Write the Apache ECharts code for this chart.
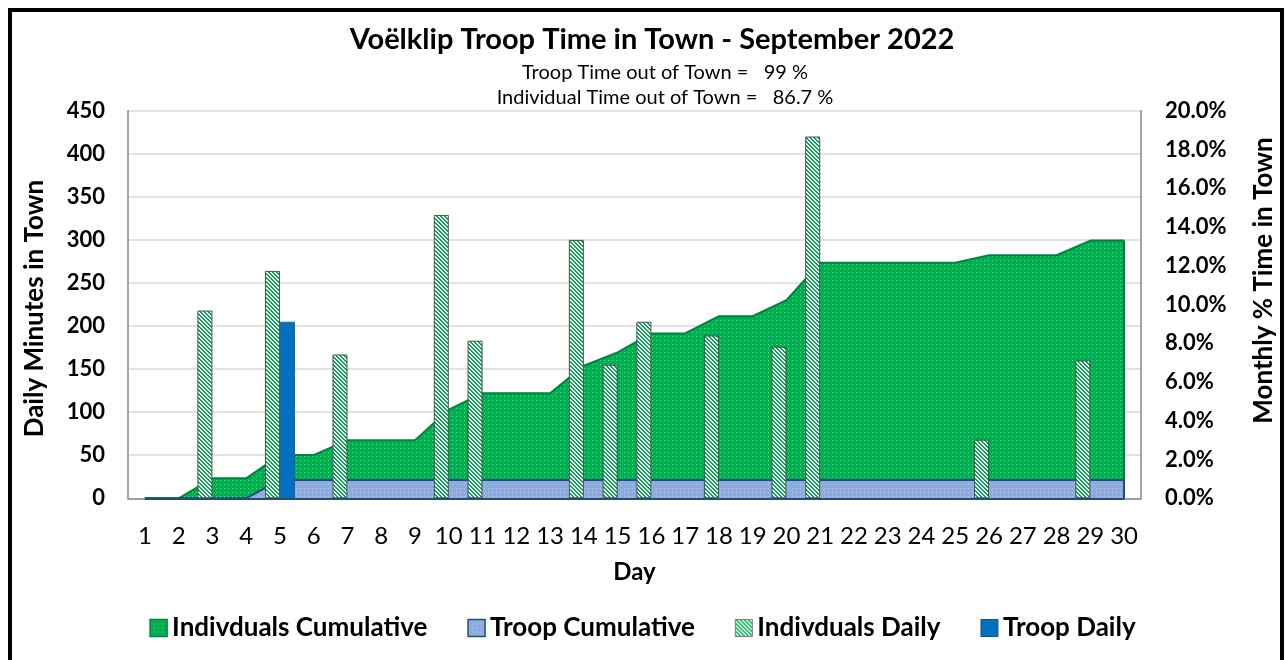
<!DOCTYPE html>
<html>
<head>
<meta charset="utf-8">
<script src="https://cdn.jsdelivr.net/npm/echarts@6/dist/echarts.min.js"></script>
<style>
  html, body { margin: 0; padding: 0; background: #fff; }
  #chart { width: 1285px; height: 660px; }
</style>
</head>
<body>
<div id="chart"></div>
<script>
// values
const days = ['1', '2', '3', '4', '5', '6', '7', '8', '9', '10', '11', '12', '13', '14', '15',
  '16', '17', '18', '19', '20', '21', '22', '23', '24', '25', '26', '27', '28', '29', '30']
const indivDaily = [0, 0, 218, 0, 264, 0, 167, 0, 0, 329, 183, 0, 0, 300, 155,
  205, 0, 189, 0, 176, 420, 0, 0, 0, 0, 68, 0, 0, 160, 0]
const troopDaily = [0, 0, 0, 0, 205, 0, 0, 0, 0, 0, 0, 0, 0, 0, 0,
  0, 0, 0, 0, 0, 0, 0, 0, 0, 0, 0, 0, 0, 0, 0]
// cumulative, percent of month
const indivCumulative = [0, 0, 1.03, 1.03, 2.23, 2.23, 3.0, 3.0, 3.0, 4.58, 5.42, 5.42, 5.42, 6.84, 7.53,
  8.51, 8.51, 9.4, 9.4, 10.22, 12.16, 12.16, 12.16, 12.16, 12.16, 12.54, 12.54, 12.54, 13.3, 13.3]
const troopCumulative = [0, 0, 0, 0, 0.95, 0.95, 0.95, 0.95, 0.95, 0.95, 0.95, 0.95, 0.95, 0.95, 0.95,
  0.95, 0.95, 0.95, 0.95, 0.95, 0.95, 0.95, 0.95, 0.95, 0.95, 0.95, 0.95, 0.95, 0.95, 0.95]
const leftTicks = { min: 0, max: 450, interval: 50 }
const rightTicks = { min: 0, max: 20, interval: 2 }

const FONT = 'Lato'

// small canvas tiles for the Excel-like fills
function tile(size, bg, fg, test) {
  const c = document.createElement('canvas')
  c.width = size
  c.height = size
  const ctx = c.getContext('2d')
  ctx.fillStyle = bg
  ctx.fillRect(0, 0, size, size)
  ctx.fillStyle = fg
  for (let x = 0; x < size; x++) {
    for (let y = 0; y < size; y++) {
      if (test(x, y)) ctx.fillRect(x, y, 1, 1)
    }
  }
  return { image: c, repeat: 'repeat' }
}

const greenDots = tile(4, '#00b050', '#63d08d', (x, y) => x === 0 && y === 0)
const blueDots = tile(4, '#8faadc', '#b8cbec', (x, y) => x === 0 && y === 0)
const stripes = tile(4, '#ffffff', '#00a850', (x, y) => ((x - y + 8) % 4) < 2)

// empty days draw no bar
const noZero = arr => arr.map(v => (v === 0 ? null : v))

const lastDay = days[days.length - 1]
const outline = (series, color) => ({
  silent: true,
  symbol: 'none',
  label: { show: false },
  lineStyle: { color: color, width: 2, type: 'solid' },
  data: [
    [{ coord: [days[0], 0] }, { coord: [lastDay, 0] }],
    [{ coord: [lastDay, 0] }, { coord: [lastDay, series[series.length - 1]] }]
  ]
})

const chart = echarts.init(document.getElementById('chart'))

const options = {
  backgroundColor: '#fff',
  animation: false,
  textStyle: { fontFamily: FONT },
  title: [
    {
      text: 'Voëlklip Troop Time in Town - September 2022',
      left: 647, top: 20, textAlign: 'center',
      textStyle: { fontFamily: FONT, fontSize: 29, fontWeight: 'bold', color: '#000' }
    },
    {
      text: 'Troop Time out of Town =   99 %',
      left: 660, top: 58, textAlign: 'center',
      textStyle: { fontFamily: FONT, fontSize: 20, fontWeight: 'normal', color: '#000' }
    },
    {
      text: 'Individual Time out of Town =   86.7 %',
      left: 660, top: 83, textAlign: 'center',
      textStyle: { fontFamily: FONT, fontSize: 20, fontWeight: 'normal', color: '#000' }
    }
  ],
  graphic: [
    {
      type: 'rect',
      shape: { x: 10, y: 10, width: 1272, height: 700 },
      style: { fill: 'none', stroke: '#000', lineWidth: 4 },
      silent: true
    }
  ],
  legend: {
    left: 'center',
    top: 610,
    itemWidth: 17,
    itemHeight: 17,
    itemGap: 40,
    textStyle: { fontFamily: FONT, fontSize: 26, fontWeight: 'bold', color: '#000' },
    data: [
      { name: 'Indivduals Cumulative', icon: 'rect', itemStyle: { color: greenDots, borderColor: '#00843d', borderWidth: 1.5 } },
      { name: 'Troop Cumulative', icon: 'rect', itemStyle: { color: blueDots, borderColor: '#1f4e79', borderWidth: 1.5 } },
      { name: 'Indivduals Daily', icon: 'rect', itemStyle: { color: stripes, borderColor: '#7f7f7f', borderWidth: 1 } },
      { name: 'Troop Daily', icon: 'rect', itemStyle: { color: '#0070c0', borderColor: '#1f4e79', borderWidth: 1 } }
    ]
  },
  grid: {
    left: 128,
    right: 144,
    top: 110.7,
    bottom: 161.7,
    containLabel: false
  },
  xAxis: {
    type: 'category',
    data: days,
    name: 'Day',
    nameLocation: 'middle',
    nameGap: 62,
    nameTextStyle: { fontFamily: FONT, fontSize: 24, fontWeight: 'bold', color: '#000' },
    axisLine: { lineStyle: { color: '#868686', width: 1.5 } },
    axisTick: { length: 9, lineStyle: { color: '#868686', width: 1.5 } },
    axisLabel: { margin: 26, fontFamily: FONT, fontSize: 24, color: '#000', interval: 0 }
  },
  yAxis: [
    {
      type: 'value',
      min: leftTicks.min,
      max: leftTicks.max,
      interval: leftTicks.interval,
      name: 'Daily Minutes in Town',
      nameLocation: 'middle',
      nameGap: 80,
      nameRotate: 90,
      nameTextStyle: { fontFamily: FONT, fontSize: 26, fontWeight: 'bold', color: '#000', padding: [0, 8, 0, 0] },
      axisLine: { show: true, lineStyle: { color: '#868686', width: 1.5 } },
      axisTick: { show: false },
      axisLabel: { margin: 23, fontFamily: FONT, fontSize: 22, fontWeight: 'bold', color: '#000' },
      splitLine: { lineStyle: { color: '#d9d9d9', width: 1.5 } }
    },
    {
      type: 'value',
      min: rightTicks.min,
      max: rightTicks.max,
      interval: rightTicks.interval,
      position: 'right',
      name: 'Monthly % Time in Town',
      nameLocation: 'middle',
      nameGap: 110,
      nameRotate: 90,
      nameTextStyle: { fontFamily: FONT, fontSize: 26, fontWeight: 'bold', color: '#000', padding: [0, 0, 0, 48] },
      axisLine: { show: true, lineStyle: { color: '#868686', width: 1.5 } },
      axisTick: { show: false },
      axisLabel: {
        margin: 24, fontFamily: FONT, fontSize: 22, fontWeight: 'bold', color: '#000',
        formatter: v => v.toFixed(1) + '%'
      },
      splitLine: { show: false }
    }
  ],
  series: [
    {
      name: 'Indivduals Cumulative',
      type: 'line',
      yAxisIndex: 1,
      data: indivCumulative,
      showSymbol: false,
      symbol: 'none',
      itemStyle: { color: greenDots },
      lineStyle: { color: '#00843d', width: 2 },
      areaStyle: { color: greenDots, opacity: 1 },
      markLine: outline(indivCumulative, '#00843d'),
      z: 1
    },
    {
      name: 'Troop Cumulative',
      type: 'line',
      yAxisIndex: 1,
      data: troopCumulative,
      showSymbol: false,
      symbol: 'none',
      itemStyle: { color: blueDots },
      lineStyle: { color: '#1f4e79', width: 2 },
      areaStyle: { color: blueDots, opacity: 1 },
      markLine: outline(troopCumulative, '#1f4e79'),
      z: 2
    },
    {
      name: 'Indivduals Daily',
      type: 'bar',
      yAxisIndex: 0,
      data: noZero(indivDaily),
      barWidth: 15,
      barGap: '0%',
      itemStyle: { color: stripes, borderColor: '#4d4d4d', borderWidth: 1 },
      z: 3
    },
    {
      name: 'Troop Daily',
      type: 'bar',
      yAxisIndex: 0,
      data: noZero(troopDaily),
      barWidth: 15,
      barGap: '0%',
      itemStyle: { color: '#0070c0', borderColor: '#1f5f9f', borderWidth: 1 },
      z: 3
    }
  ]
}

chart.setOption(options)
</script>
</body>
</html>
